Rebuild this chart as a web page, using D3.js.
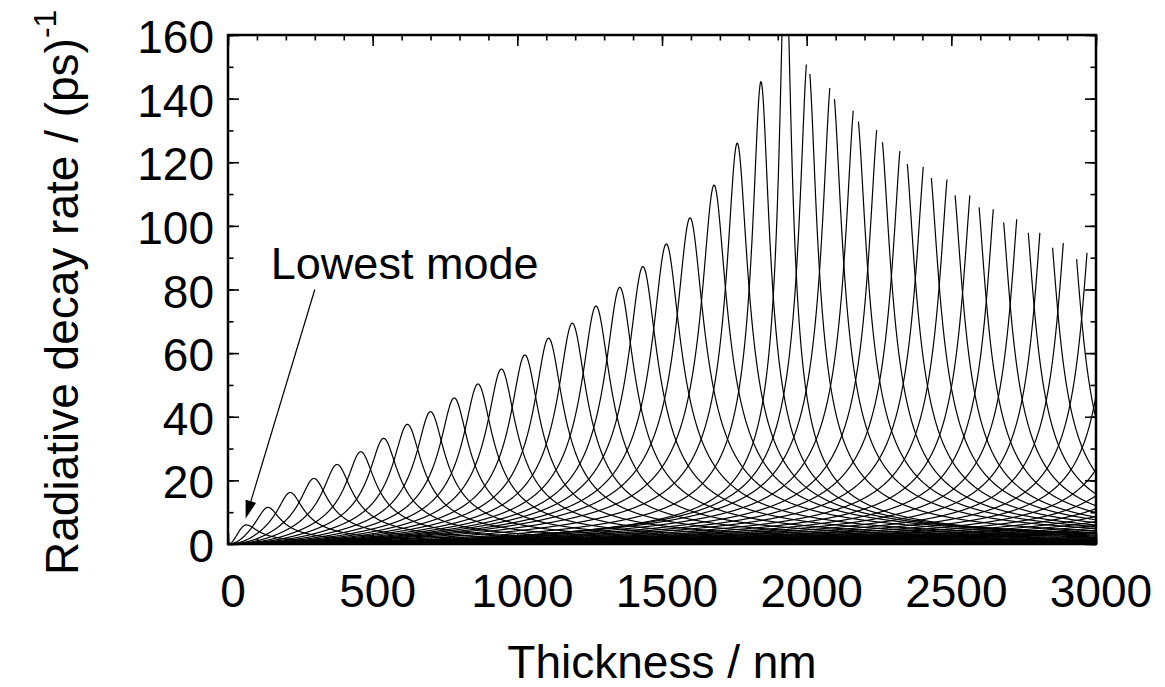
<!DOCTYPE html>
<html>
<head>
<meta charset="utf-8">
<script src="https://cdn.jsdelivr.net/npm/d3@7"></script>
<style>
  body { margin: 0; background: #fff; }
  text { font-family: "Liberation Sans", Arial, Helvetica, sans-serif; fill: #000; }
</style>
</head>
<body>
<div id="chart"></div>
<script>
// one entry per confined mode
// centre thickness (nm), value at the top on the left / right side (1/ps),
// half width of the gap where the curve is not drawn (nm), line width (nm)
var modeCenter = [63, 138, 215, 297, 377, 459, 538, 620, 700, 782, 864, 945, 1026, 1108, 1190, 1272,
  1354, 1434, 1515, 1597, 1680, 1760, 1842, 1927, 2005, 2088, 2170, 2252, 2335, 2417, 2499, 2580,
  2663, 2746, 2828, 2910, 2993, 3075, 3157, 3240, 3322, 3404, 3486, 3568, 3650, 3732, 3814, 3896];
var modeTopLeft = [6.0, 11.5, 16.2, 20.6, 25.0, 29.0, 33.2, 37.6, 41.6, 45.9, 50.3, 55.0, 59.4, 64.7, 69.4, 74.8,
  80.7, 87.2, 94.3, 102.5, 112.8, 126, 145.3, 190, 151.3, 143.9, 136.7, 130.1, 124.1, 119.1, 114.6, 109.6,
  105.8, 102.1, 98.4, 95.2, 92.1, 89.0, 86.0, 83.0, 80.5, 78.0, 75.5, 73.0, 71.0, 69.0, 67.0, 65.0];
var modeTopRight = [6.0, 11.5, 16.2, 20.6, 25.0, 29.0, 33.2, 37.6, 41.6, 45.9, 50.3, 55.0, 59.4, 64.7, 69.4, 74.8,
  80.7, 87.2, 94.3, 102.5, 112.8, 126, 145.3, 185, 148.3, 140.4, 133.3, 126.3, 120.0, 115.6, 109.6, 105.8,
  101.6, 97.8, 93.7, 90.1, 88.0, 85.0, 82.0, 79.5, 77.0, 74.5, 72.0, 70.0, 68.0, 66.0, 64.0, 62.0];
var modeGap = [0, 0, 0, 0, 0, 0, 0, 0, 0, 0, 0, 0, 0, 0, 0, 0,
  0, 0, 0, 0, 0, 0, 0, 2, 5.5, 7.5, 8.5, 10, 12.5, 13.5, 14, 16,
  17.5, 20, 21.5, 22.5, 23.5, 24.5, 25.5, 26.5, 27.5, 28.5, 29.5, 30.5, 31.5, 32.5, 33.5, 34.5];
var modeWidth = [38, 40, 42, 45, 46, 46, 46, 46, 46, 46, 46, 46, 46, 46, 46, 46,
  46, 46, 45, 44, 40, 34, 27, 19, 27, 31, 33, 34, 35, 36, 36, 36,
  36, 36, 36, 36, 36, 36, 36, 36, 36, 36, 36, 36, 36, 36, 36, 36];

var xTicks = [0, 500, 1000, 1500, 2000, 2500, 3000];
var yTicks = [0, 20, 40, 60, 80, 100, 120, 140, 160];

var margin = { top: 35, right: 69, bottom: 143, left: 228 };
var width = 1165 - margin.left - margin.right;
var height = 687 - margin.top - margin.bottom;

var svg = d3.select("#chart")
  .append("svg")
  .attr("width", width + margin.left + margin.right)
  .attr("height", height + margin.top + margin.bottom)
  .append("g")
  .attr("transform", "translate(" + margin.left + "," + margin.top + ")");

var x = d3.scaleLinear().domain([0, 3000]).range([0, width]);
var y = d3.scaleLinear().domain([0, 160]).range([height, 0]);

svg.append("clipPath").attr("id", "plotclip")
  .append("rect").attr("width", width).attr("height", height);

// line shape of one mode at thickness d
function rate(i, d) {
  var c = modeCenter[i], w = modeWidth[i], g = modeGap[i];
  var off = d - c;
  if (g > 0 && Math.abs(off) < g) return null;
  var top = off < 0 ? modeTopLeft[i] : modeTopRight[i];
  var v = top * Math.sqrt(1 + (g / w) * (g / w)) / Math.sqrt(1 + (off / w) * (off / w));
  if (d < c) {
    var m = 2 * d * c / (d * d + c * c);
    v = v * m * m;
  }
  return v;
}

var thick = d3.range(0, 3001, 1);

var line = d3.line()
  .defined(function(p) { return p.v !== null; })
  .x(function(p) { return x(p.d); })
  .y(function(p) { return y(p.v); });

var curves = svg.append("g").attr("clip-path", "url(#plotclip)");
modeCenter.forEach(function(c, i) {
  var pts = thick.map(function(d) { return { d: d, v: rate(i, d) }; });
  curves.append("path")
    .datum(pts)
    .attr("d", line)
    .attr("fill", "none")
    .attr("stroke", "#000")
    .attr("stroke-width", 1.2);
});

// ticks on all four sides, pointing inward
var xMinor = d3.range(0, 3001, 100);
var yMinor = d3.range(0, 161, 10);
function tickAxis(axis, scale, values, size) {
  return axis(scale).tickValues(values).tickSize(size).tickFormat("");
}
var tickGroups = [
  svg.append("g").attr("transform", "translate(0," + height + ")").call(tickAxis(d3.axisBottom, x, xMinor, -5.5)),
  svg.append("g").attr("transform", "translate(0," + height + ")").call(tickAxis(d3.axisBottom, x, xTicks, -11)),
  svg.append("g").call(tickAxis(d3.axisTop, x, xMinor, -5.5)),
  svg.append("g").call(tickAxis(d3.axisTop, x, xTicks, -11)),
  svg.append("g").call(tickAxis(d3.axisLeft, y, yMinor, -5.5)),
  svg.append("g").call(tickAxis(d3.axisLeft, y, yTicks, -11)),
  svg.append("g").attr("transform", "translate(" + width + ",0)").call(tickAxis(d3.axisRight, y, yMinor, -5.5)),
  svg.append("g").attr("transform", "translate(" + width + ",0)").call(tickAxis(d3.axisRight, y, yTicks, -11))
];
tickGroups.forEach(function(g) {
  g.select(".domain").remove();
  g.selectAll("line").attr("stroke", "#000").attr("stroke-width", 1.6);
});

svg.append("rect")
  .attr("width", width)
  .attr("height", height)
  .attr("fill", "none")
  .attr("stroke", "#000")
  .attr("stroke-width", 2.5);

// tick labels
svg.selectAll(".xlabel")
  .data(xTicks)
  .enter().append("text")
  .attr("class", "xlabel")
  .attr("x", function(d) { return x(d) + 5; })
  .attr("y", height + 63)
  .attr("text-anchor", "middle")
  .attr("font-size", "46px")
  .text(function(d) { return d; });

svg.selectAll(".ylabel")
  .data(yTicks)
  .enter().append("text")
  .attr("class", "ylabel")
  .attr("x", -14)
  .attr("y", function(d) { return y(d) + 18; })
  .attr("text-anchor", "end")
  .attr("font-size", "46px")
  .text(function(d) { return d; });

// axis titles
svg.append("text")
  .attr("x", width / 2)
  .attr("y", height + 134)
  .attr("text-anchor", "middle")
  .attr("font-size", "46px")
  .text("Thickness / nm");

var ytitle = svg.append("text")
  .attr("transform", "translate(" + (78 - margin.left) + "," + (575 - margin.top) + ")rotate(-90)")
  .attr("text-anchor", "start")
  .attr("font-size", "46px");
ytitle.append("tspan").text("Radiative decay rate / (ps)");
ytitle.append("tspan").attr("dy", -22).attr("font-size", "32px").text("-1");

// annotation with arrow
var arrowFrom = [300, 80];
var arrowTo = [61, 8];
svg.append("text")
  .attr("x", x(148))
  .attr("y", y(83.2))
  .attr("font-size", "45px")
  .text("Lowest mode");

var x0 = x(arrowFrom[0]), y0 = y(arrowFrom[1]);
var x1 = x(arrowTo[0]), y1 = y(arrowTo[1]);
var ang = Math.atan2(y1 - y0, x1 - x0);
var headLen = 18, headHalf = 5.5;
var bx = x1 - headLen * Math.cos(ang), by = y1 - headLen * Math.sin(ang);
svg.append("line")
  .attr("x1", x0).attr("y1", y0)
  .attr("x2", bx).attr("y2", by)
  .attr("stroke", "#000")
  .attr("stroke-width", 1.2);
svg.append("path")
  .attr("d", "M" + x1 + "," + y1 +
    "L" + (bx + headHalf * Math.sin(ang)) + "," + (by - headHalf * Math.cos(ang)) +
    "L" + (bx - headHalf * Math.sin(ang)) + "," + (by + headHalf * Math.cos(ang)) + "Z")
  .attr("fill", "#000");
</script>
</body>
</html>
